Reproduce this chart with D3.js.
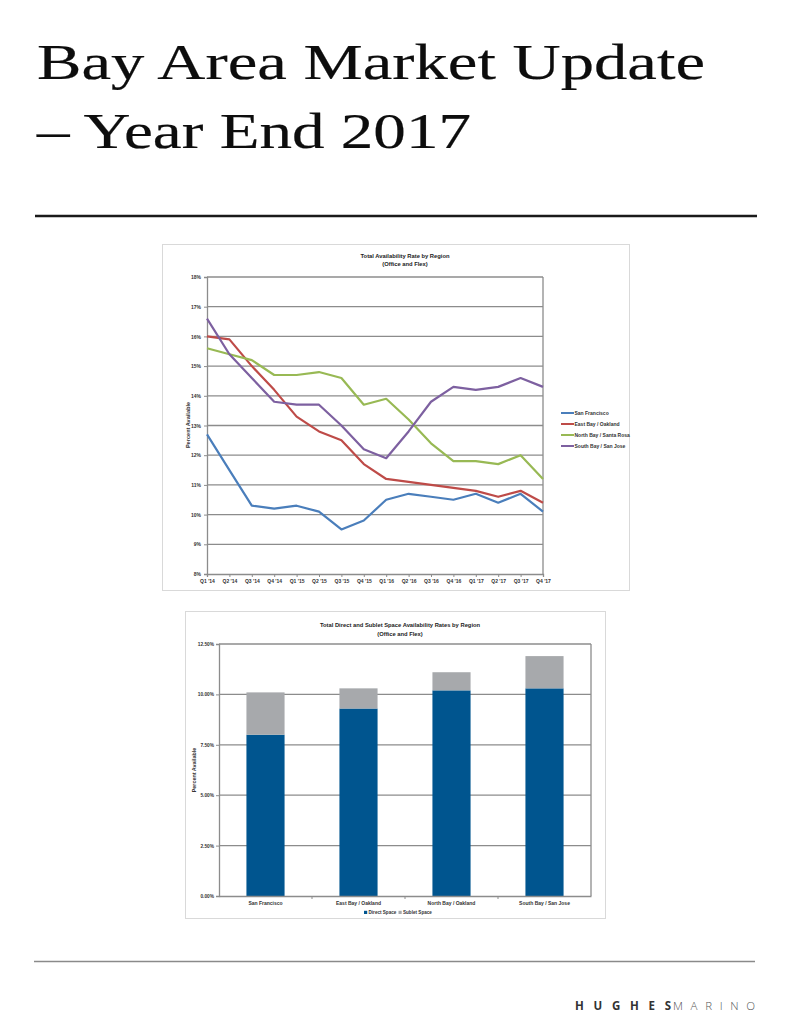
<!DOCTYPE html>
<html><head><meta charset="utf-8">
<script src="https://cdn.jsdelivr.net/npm/d3@7"></script>
<style>
html,body{margin:0;padding:0;background:#fff;}
svg{display:block;}
</style></head>
<body>
<svg id="page" width="800" height="1018"></svg>
<script>
// ---------- DATA ----------
const quarters = ["Q1 '14","Q2 '14","Q3 '14","Q4 '14","Q1 '15","Q2 '15","Q3 '15","Q4 '15","Q1 '16","Q2 '16","Q3 '16","Q4 '16","Q1 '17","Q2 '17","Q3 '17","Q4 '17"];
const seriesNames = ["San Francisco","East Bay / Oakland","North Bay / Santa Rosa","South Bay / San Jose"];
const sanFrancisco = [12.7,11.5,10.3,10.2,10.3,10.1,9.5,9.8,10.5,10.7,10.6,10.5,10.7,10.4,10.7,10.1];
const eastBay      = [16.0,15.9,15.0,14.2,13.3,12.8,12.5,11.7,11.2,11.1,11.0,10.9,10.8,10.6,10.8,10.4];
const northBay     = [15.6,15.4,15.2,14.7,14.7,14.8,14.6,13.7,13.9,13.2,12.4,11.8,11.8,11.7,12.0,11.2];
const southBay     = [16.6,15.4,14.6,13.8,13.7,13.7,13.0,12.2,11.9,12.8,13.8,14.3,14.2,14.3,14.6,14.3];
const lineTicks = [8,9,10,11,12,13,14,15,16,17,18];

const barRegions = ["San Francisco","East Bay / Oakland","North Bay / Oakland","South Bay / San Jose"];
const directSpace = [8.0,9.3,10.2,10.3];
const subletSpace = [2.1,1.0,0.9,1.6];
const barTicks = [0,2.5,5,7.5,10,12.5];
const barSeriesNames = ["Direct Space","Sublet Space"];

const lineColors = ["#4a7ebb","#be4b48","#98b954","#7d60a0"];
const barColors = ["#00558f","#a7a9ac"];

const svg = d3.select("#page");
const chartFont = "'Liberation Sans', Arial, sans-serif";

// ---------- PAGE TITLE ----------
const title = svg.append("g").attr("font-family","'Liberation Serif', 'Times New Roman', serif")
  .attr("fill","#0d0d0d").attr("stroke","#0d0d0d").attr("stroke-width",0.2);
title.append("text").attr("x",37).attr("y",79).attr("font-size",51.5)
  .attr("textLength",668).attr("lengthAdjust","spacingAndGlyphs").text("Bay Area Market Update");
title.append("text").attr("x",37).attr("y",148).attr("font-size",51.5)
  .attr("textLength",434).attr("lengthAdjust","spacingAndGlyphs").text("\u2013 Year End 2017");

svg.append("line").attr("x1",35).attr("x2",757).attr("y1",216).attr("y2",216)
  .attr("stroke","#1a1a1a").attr("stroke-width",2.4);
svg.append("line").attr("x1",34).attr("x2",755).attr("y1",961.5).attr("y2",961.5)
  .attr("stroke","#8a8a8a").attr("stroke-width",1.6);

// logo
svg.append("text").attr("x",575).attr("y",1009.5).attr("font-family","'Open Sans', 'Liberation Sans', sans-serif")
  .attr("font-size",11.5).attr("font-weight","bold").attr("fill","#333")
  .attr("textLength",96).attr("lengthAdjust","spacing").text("HUGHES");
svg.append("text").attr("x",673).attr("y",1009.5).attr("font-family","'Open Sans', 'Liberation Sans', sans-serif")
  .attr("font-size",11.5).attr("font-weight",300).attr("fill","#555")
  .attr("textLength",82).attr("lengthAdjust","spacing").text("MARINO");

// ---------- LINE CHART ----------
const lc = svg.append("g").attr("font-family",chartFont);
lc.append("rect").attr("x",162.5).attr("y",244.5).attr("width",467).attr("height",346)
  .attr("fill","#fff").attr("stroke","#d9d9d9").attr("stroke-width",1);

const lx = d3.scalePoint().domain(quarters).range([207,543]);
const ly = d3.scaleLinear().domain([8,18]).range([574,277]);

lc.append("text").attr("x",405).attr("y",257.5).attr("text-anchor","middle").attr("font-size",5.8).attr("font-weight","bold").attr("fill","#222").text("Total Availability Rate by Region");
lc.append("text").attr("x",405).attr("y",266).attr("text-anchor","middle").attr("font-size",5.8).attr("font-weight","bold").attr("fill","#222").text("(Office and Flex)");

// gridlines
lc.append("g").selectAll("line").data(lineTicks.filter(t=>t>8)).join("line")
  .attr("x1",207).attr("x2",543).attr("y1",d=>ly(d)).attr("y2",d=>ly(d))
  .attr("stroke","#8c8c8c").attr("stroke-width",1.3);
lc.append("line").attr("x1",543).attr("x2",543).attr("y1",ly(18)).attr("y2",ly(8)).attr("stroke","#8c8c8c").attr("stroke-width",1.3);

// y axis
const lyAxis = d3.axisLeft(ly).tickValues(lineTicks).tickFormat(d=>d+"%").tickSize(3).tickPadding(3);
const lyg = lc.append("g").attr("transform","translate(207,0)").call(lyAxis);
lyg.select(".domain").attr("stroke","#8c8c8c").attr("stroke-width",1.3);
lyg.selectAll(".tick line").attr("stroke","#8c8c8c");
lyg.selectAll("text").attr("font-size",5).attr("font-weight","bold").attr("fill","#333").attr("font-family",chartFont);

// x axis
const lxAxis = d3.axisBottom(lx).tickSize(3).tickPadding(2);
const lxg = lc.append("g").attr("transform","translate(0,574)").call(lxAxis);
lxg.select(".domain").attr("stroke","#8c8c8c").attr("stroke-width",1.3);
lxg.selectAll(".tick line").attr("stroke","#8c8c8c");
lxg.selectAll("text").attr("font-size",5).attr("font-weight","bold").attr("fill","#333").attr("font-family",chartFont);

lc.append("text").attr("transform","translate(190,425) rotate(-90)").attr("text-anchor","middle")
  .attr("font-size",5.6).attr("font-weight","bold").attr("fill","#333").text("Percent Available");

const lineData = [sanFrancisco,eastBay,northBay,southBay];
const lineGen = d3.line().x((d,i)=>lx(quarters[i])).y(d=>ly(d));
lc.append("g").selectAll("path").data(lineData).join("path")
  .attr("d",lineGen).attr("fill","none").attr("stroke",(d,i)=>lineColors[i]).attr("stroke-width",2.2).attr("stroke-linejoin","round");

// legend
const lleg = lc.append("g").selectAll("g").data(seriesNames).join("g")
  .attr("transform",(d,i)=>`translate(561,${413+i*11})`);
lleg.append("line").attr("x1",0).attr("x2",13).attr("stroke",(d,i)=>lineColors[i]).attr("stroke-width",2);
lleg.append("text").attr("x",13.5).attr("y",1.8).attr("font-size",5).attr("font-weight","bold").attr("fill","#333").text(d=>d);

// ---------- BAR CHART ----------
const bc = svg.append("g").attr("font-family",chartFont);
bc.append("rect").attr("x",185.5).attr("y",611.5).attr("width",420).attr("height",307)
  .attr("fill","#fff").attr("stroke","#d9d9d9").attr("stroke-width",1);

const bx = d3.scaleBand().domain(barRegions).range([219,591]).paddingInner(0.59).paddingOuter(0.295);
const by = d3.scaleLinear().domain([0,12.5]).range([896,644]);

bc.append("text").attr("x",400).attr("y",627).attr("text-anchor","middle").attr("font-size",5.8).attr("font-weight","bold").attr("fill","#222").text("Total Direct and Sublet Space Availability Rates by Region");
bc.append("text").attr("x",400).attr("y",635.5).attr("text-anchor","middle").attr("font-size",5.8).attr("font-weight","bold").attr("fill","#222").text("(Office and Flex)");

bc.append("g").selectAll("line").data(barTicks.filter(t=>t>0)).join("line")
  .attr("x1",219).attr("x2",591).attr("y1",d=>by(d)).attr("y2",d=>by(d))
  .attr("stroke","#8c8c8c").attr("stroke-width",1.3);
bc.append("line").attr("x1",591).attr("x2",591).attr("y1",by(12.5)).attr("y2",by(0)).attr("stroke","#8c8c8c").attr("stroke-width",1.3);

const stackRows = barRegions.map((r,i)=>({region:r,direct:directSpace[i],sublet:subletSpace[i]}));
const stacked = d3.stack().keys(["direct","sublet"])(stackRows);
bc.append("g").selectAll("g").data(stacked).join("g").attr("fill",(d,i)=>barColors[i])
  .selectAll("rect").data(d=>d).join("rect")
  .attr("x",d=>bx(d.data.region)).attr("width",bx.bandwidth())
  .attr("y",d=>by(d[1])).attr("height",d=>by(d[0])-by(d[1]));

const byAxis = d3.axisLeft(by).tickValues(barTicks).tickFormat(d=>d.toFixed(2)+"%").tickSize(3).tickPadding(2);
const byg = bc.append("g").attr("transform","translate(219,0)").call(byAxis);
byg.select(".domain").attr("stroke","#8c8c8c").attr("stroke-width",1.3);
byg.selectAll(".tick line").attr("stroke","#8c8c8c");
byg.selectAll("text").attr("font-size",4.8).attr("font-weight","bold").attr("fill","#333").attr("font-family",chartFont);

const bxAxis = d3.axisBottom(bx).tickSize(0).tickPadding(5);
const bxg = bc.append("g").attr("transform","translate(0,896)").call(bxAxis);
bxg.select(".domain").attr("stroke","#8c8c8c").attr("stroke-width",1.3);
bxg.selectAll("text").attr("font-size",5).attr("font-weight","bold").attr("fill","#333").attr("font-family",chartFont);
// category separators
bc.append("g").selectAll("line").data(barRegions.slice(1)).join("line")
  .attr("x1",d=>bx(d)-bx.step()*bx.paddingInner()/2).attr("x2",d=>bx(d)-bx.step()*bx.paddingInner()/2)
  .attr("y1",896).attr("y2",899).attr("stroke","#8c8c8c");

bc.append("text").attr("transform","translate(196,770) rotate(-90)").attr("text-anchor","middle")
  .attr("font-size",5.4).attr("font-weight","bold").attr("fill","#333").text("Percent Available");

const bleg = bc.append("g").selectAll("g").data(barSeriesNames).join("g")
  .attr("transform",(d,i)=>`translate(${364+i*34.5},913)`);
bleg.append("rect").attr("x",0).attr("y",-2.2).attr("width",3.2).attr("height",3.2).attr("fill",(d,i)=>barColors[i]);
bleg.append("text").attr("x",4.5).attr("y",1.3).attr("font-size",4.6).attr("font-weight","bold").attr("fill","#333").text(d=>d);
</script>
</body></html>
